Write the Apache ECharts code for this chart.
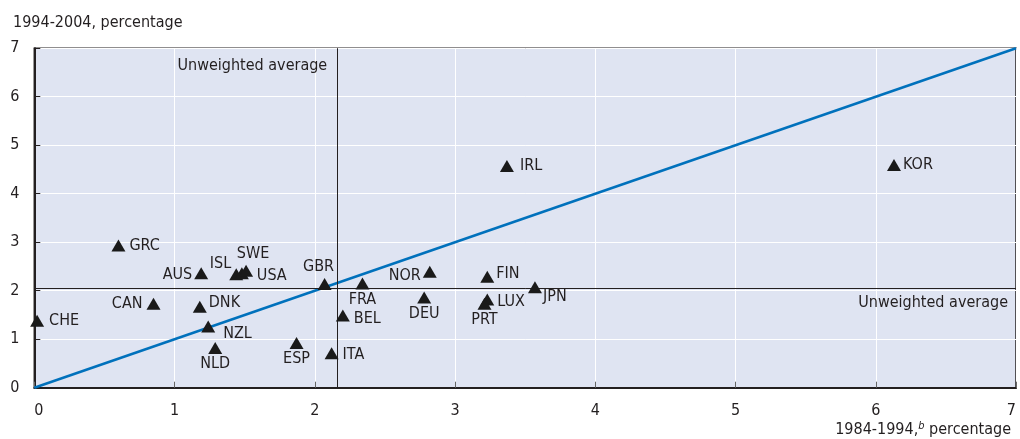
<!DOCTYPE html>
<html>
<head>
<meta charset="utf-8">
<script src="https://cdn.jsdelivr.net/npm/echarts@6/dist/echarts.min.js"></script>
<style>
html,body{margin:0;padding:0;background:#fff;}
#chart{width:1020px;height:439px;}
</style>
</head>
<body>
<div id="chart"></div>
<script>
// ---- data ----
const countries = ['CHE','GRC','CAN','AUS','DNK','NZL','NLD','ISL','USA','SWE','GBR','FRA','BEL','ESP','ITA','NOR','DEU','FIN','LUX','PRT','JPN','IRL','KOR'];
const growth8494 = [0.02,0.60,0.85,1.19,1.18,1.24,1.29,1.44,1.48,1.51,2.07,2.34,2.20,1.87,2.12,2.82,2.78,3.23,3.23,3.21,3.57,3.37,6.13];
const growth9404 = [1.38,2.93,1.73,2.36,1.67,1.26,0.82,2.34,2.36,2.41,2.14,2.15,1.49,0.92,0.71,2.39,1.86,2.29,1.82,1.73,2.07,4.57,4.59];
const avgX = 2.16;
const avgY = 2.06;
const diagonal = [[0,0],[7,7]];
const avgLabel = 'Unweighted average';
const xTitle = '1984-1994,';
const xTitleSup = 'b';
const xTitleRest = ' percentage';
const yTitle = '1994-2004, percentage';

// ---- label placement (styling) ----
const labelPlace = {
  CHE:{position:'right',distance:5},
  GRC:{position:'right',distance:4},
  CAN:{position:'left',distance:4},
  AUS:{position:'left',distance:2,offset:[0,2]},
  DNK:{position:'right',distance:2,offset:[0,-4]},
  NZL:{position:'right',distance:8,offset:[0,7]},
  NLD:{position:'bottom',distance:2},
  ISL:{position:'left',distance:-2,offset:[0,-10]},
  USA:{position:'right',distance:8,offset:[0,3]},
  SWE:{position:'top',distance:3,offset:[7,0]},
  GBR:{position:'top',distance:3,offset:[-6,0]},
  FRA:{position:'bottom',distance:2},
  BEL:{position:'right',distance:4,offset:[0,3]},
  ESP:{position:'bottom',distance:2},
  ITA:{position:'right',distance:4,offset:[0,2]},
  NOR:{position:'left',distance:2,offset:[0,4]},
  DEU:{position:'bottom',distance:2},
  FIN:{position:'right',distance:2,offset:[0,-3]},
  LUX:{position:'right',distance:3,offset:[0,2]},
  PRT:{position:'bottom',distance:2},
  JPN:{position:'right',distance:1,offset:[0,10]},
  IRL:{position:'right',distance:6},
  KOR:{position:'right',distance:2}
};

const FONT = "'Liberation Sans Narrow','DejaVu Sans Condensed','Liberation Sans',sans-serif";
const TXT = '#231f20';

const pts = countries.map((c,i)=>{
  const lp = labelPlace[c] || {position:'right'};
  return {
    name:c,
    value:[growth8494[i], growth9404[i]],
    label:Object.assign({show:true, formatter:c, color:TXT, opacity:1, fontFamily:FONT, fontSize:16}, lp)
  };
});

const chart = echarts.init(document.getElementById('chart'), null, {renderer:'canvas'});
chart.setOption({
  animation:false,
  backgroundColor:'#ffffff',
  title:[
    {text:yTitle, left:8, top:10, textStyle:{fontFamily:FONT, fontSize:16, fontWeight:'normal', color:TXT}},
    {text:xTitle+'{sup|'+xTitleSup+'}'+xTitleRest, right:4, bottom:-4,
     textStyle:{fontFamily:FONT, fontSize:16, fontWeight:'normal', color:TXT,
       rich:{sup:{fontFamily:FONT, fontSize:11, fontStyle:'italic', color:TXT, verticalAlign:'top', padding:[0,0,8,0]}}}}
  ],
  grid:{left:34.3, right:4, top:48.2, bottom:51.3, show:true, backgroundColor:'#dfe4f2', borderColor:'#231f20', borderWidth:1.5},
  xAxis:{
    type:'value', min:0, max:7, interval:1,
    axisLine:{show:true, onZero:false, lineStyle:{color:'#231f20', width:2}},
    axisTick:{show:true, inside:true, length:6, lineStyle:{color:'#666', width:1}},
    axisLabel:{color:TXT, fontFamily:FONT, fontSize:16, margin:15, alignMinLabel:'left', alignMaxLabel:'right'},
    splitLine:{show:true, lineStyle:{color:'#ffffff', width:1}}
  },
  yAxis:{
    type:'value', min:0, max:7, interval:1,
    axisLine:{show:true, onZero:false, lineStyle:{color:'#231f20', width:2}},
    axisTick:{show:true, inside:true, length:6, lineStyle:{color:'#231f20', width:1}},
    axisLabel:{color:TXT, fontFamily:FONT, fontSize:16, margin:15},
    splitLine:{show:true, lineStyle:{color:'#ffffff', width:1}}
  },
  series:[
    {
      type:'line', data:diagonal, symbol:'none', silent:true, z:2,
      lineStyle:{color:'#0071bc', width:2.5},
      markLine:{
        silent:true, symbol:'none', animation:false,
        lineStyle:{color:'#231f20', width:1, type:'solid'},
        label:{show:false},
        data:[{xAxis:avgX},{yAxis:avgY}]
      }
    },
    {
      type:'scatter', data:pts, symbol:'triangle', symbolSize:[14,12], z:5,
      itemStyle:{color:'#1a1a1a', opacity:1}
    },
    {
      type:'scatter', symbolSize:0, silent:true, z:6,
      itemStyle:{opacity:1},
      data:[
        {value:[avgX,6.63], label:{show:true, position:'left', distance:10, formatter:avgLabel, color:TXT, fontFamily:FONT, fontSize:16}},
        {value:[7,1.74], label:{show:true, position:'left', distance:8, formatter:avgLabel, color:TXT, fontFamily:FONT, fontSize:16}}
      ]
    }
  ]
});
</script>
</body>
</html>
